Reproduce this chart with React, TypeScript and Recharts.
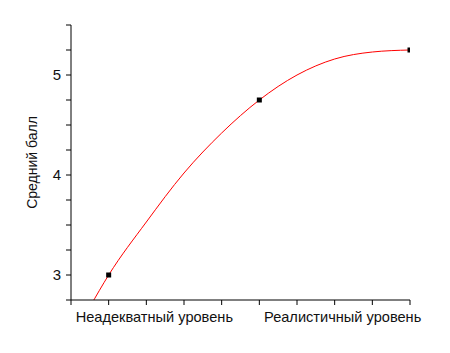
import React from "react";
import { ComposedChart, Line, Scatter, XAxis, YAxis } from "recharts";

const curveX = [0.5, 1, 2, 3, 4, 5, 6, 7, 8, 9];
const curveY = [2.68, 3.0, 3.53, 4.02, 4.42, 4.75, 5.0, 5.16, 5.23, 5.25];
const pointX = [1, 5, 9];
const pointY = [3.0, 4.75, 5.25];
const xTicks = [0, 1, 2, 3, 4, 5, 6, 7, 8, 9];
const yTicks = [2.75, 3, 3.25, 3.5, 3.75, 4, 4.25, 4.5, 4.75, 5, 5.25, 5.5];
const categoryLabels: Record<number, string> = {
  2: "Неадекватный уровень",
  7: "Реалистичный уровень",
};
const yTitle = "Средний балл";

const curveData = curveX.map((x, i) => ({ x, y: curveY[i] }));
const pointData = pointX.map((x, i) => ({ x, y: pointY[i] }));

const FONT = "Arial, 'Liberation Sans', sans-serif";

const XTick = (props: any) => {
  const { x, y, payload } = props;
  const label = categoryLabels[payload.value];
  if (!label) return null;
  return (
    <text
      x={x + 8}
      y={y}
      dy="0.71em"
      textAnchor="middle"
      fontSize={14.6}
      fontFamily={FONT}
      fill="#111"
    >
      {label}
    </text>
  );
};

const YTick = (props: any) => {
  const { x, y, payload } = props;
  if (!Number.isInteger(payload.value)) return null;
  return (
    <text
      x={x}
      y={y}
      dy="0.355em"
      textAnchor="end"
      fontSize={15}
      fontFamily={FONT}
      fill="#111"
    >
      {payload.value}
    </text>
  );
};

const Square = (props: any) => {
  const { cx, cy } = props;
  return <rect x={cx - 2.5} y={cy - 2.5} width={5} height={5} fill="#000" />;
};

const YTitle = (props: any) => {
  const { viewBox } = props;
  const cx = viewBox.x + 9;
  const cy = viewBox.y + viewBox.height / 2;
  return (
    <text
      x={cx}
      y={cy}
      transform={`rotate(-90 ${cx} ${cy})`}
      textAnchor="middle"
      dominantBaseline="central"
      fontSize={14}
      fontFamily={FONT}
      fill="#111"
    >
      {yTitle}
    </text>
  );
};

export default function App() {
  return (
    <div style={{ width: 434, height: 337, background: "#fff" }}>
      <ComposedChart
        width={434}
        height={337}
        margin={{ top: 17, right: 32, bottom: 15, left: 15 }}
      >
        <XAxis
          type="number"
          dataKey="x"
          domain={[0, 9]}
          ticks={xTicks}
          interval={0}
          allowDataOverflow
          height={30}
          tickSize={5}
          tickMargin={7}
          stroke="#000"
          tickLine={{ stroke: "#000" }}
          axisLine={{ stroke: "#000" }}
          tick={<XTick />}
        />
        <YAxis
          type="number"
          dataKey="y"
          domain={[2.75, 5.5]}
          ticks={yTicks}
          interval={0}
          allowDataOverflow
          width={48}
          tickSize={5}
          tickMargin={5}
          stroke="#000"
          tickLine={{ stroke: "#000" }}
          axisLine={{ stroke: "#000" }}
          tick={<YTick />}
          label={{ content: <YTitle /> }}
        />
        <Line
          data={curveData}
          dataKey="y"
          type="monotone"
          stroke="#ff0000"
          strokeWidth={1}
          dot={false}
          activeDot={false}
          isAnimationActive={false}
        />
        <Scatter
          data={pointData}
          dataKey="y"
          shape={<Square />}
          isAnimationActive={false}
        />
      </ComposedChart>
    </div>
  );
}
